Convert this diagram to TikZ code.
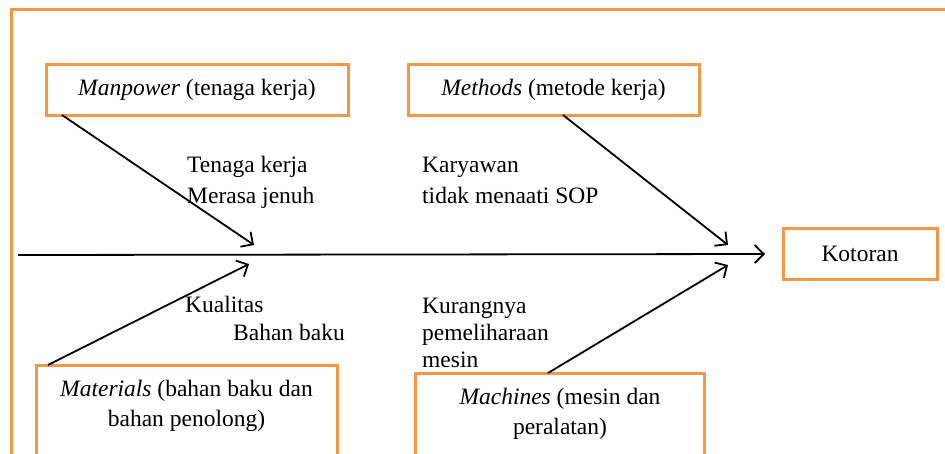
\documentclass[tikz,border=0pt]{standalone}
\usepackage{fontspec}
\setmainfont{Liberation Serif}
\usetikzlibrary{arrows.meta}
\definecolor{og}{HTML}{F79646}
\begin{document}
\begin{tikzpicture}[x=1pt,y=-1pt,
  box/.style={draw=og, line width=3pt, inner sep=0pt, font=\fontsize{23.5}{30}\selectfont, align=center},
  txt/.style={font=\fontsize{23.5}{30}\selectfont, inner sep=0pt, align=center},
  lbl/.style={font=\fontsize{23.5}{30}\selectfont, inner sep=0pt, anchor=base west},
  arr/.style={line width=1.8pt, -{Straight Barb[length=9pt,width=18pt,line width=1.8pt]}}]
\useasboundingbox (0,0) rectangle (945,453);
\clip (0,0) rectangle (945,453);
\draw[draw=og, line width=3pt] (11,9) rectangle (990,520);

% cause boxes
\node[box, minimum width=302pt, minimum height=51pt] (man) at (197,90) {\textit{Manpower} (tenaga kerja)};
\node[box, minimum width=291pt, minimum height=51pt] (met) at (553.5,90) {\textit{Methods} (metode kerja)};
\node[box, minimum width=154pt, minimum height=51pt] (kot) at (860,253.5) {Kotoran};
\node[box, minimum width=301pt, minimum height=120pt] (matbox) at (186.5,425) {};
\node[txt] (mat) at (186.5,406) {\textit{Materials} (bahan baku dan\\bahan penolong)};
\node[box, minimum width=289pt, minimum height=110pt] (macbox) at (559.5,428) {};
\node[txt] (mac) at (560,414) {\textit{Machines} (mesin dan\\peralatan)};

% spine
\coordinate (s0) at (18,255);
\coordinate (s1) at (765,254);
\draw[arr] (s0) -- (s1);

% ribs
\coordinate (manS) at (62,115);
\coordinate (manT) at (254,245);
\coordinate (metS) at (563,115);
\coordinate (metT) at (728,245);
\coordinate (matS) at (48,365);
\coordinate (matT) at (249,264);
\coordinate (macS) at (548,373);
\coordinate (macT) at (728,265);
\draw[arr] (manS) -- (manT);
\draw[arr] (metS) -- (metT);
\draw[arr] (matS) -- (matT);
\draw[arr] (macS) -- (macT);

% labels
\node[lbl] (l1) at (187,172) {Tenaga kerja};
\node[lbl] (l2) at (187,203) {Merasa jenuh};
\node[lbl] (l3) at (422,172) {Karyawan};
\node[lbl] (l4) at (422,203) {tidak menaati SOP};
\node[lbl] (l5) at (185,312) {Kualitas};
\node[lbl] (l6) at (233,340) {Bahan baku};
\node[lbl] (l7) at (422,313) {Kurangnya};
\node[lbl] (l8) at (422,340) {pemeliharaan};
\node[lbl] (l9) at (422,367) {mesin};
\end{tikzpicture}
\end{document}
